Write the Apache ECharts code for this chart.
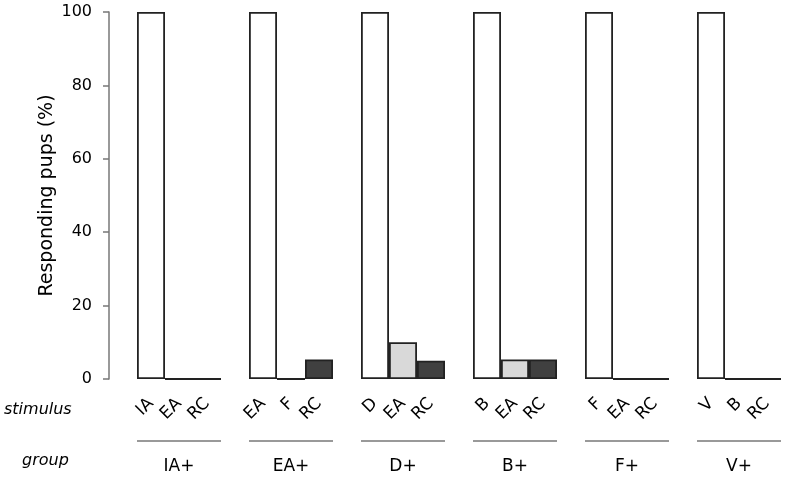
<!DOCTYPE html>
<html>
<head>
<meta charset="utf-8">
<script src="https://cdn.jsdelivr.net/npm/echarts@6/dist/echarts.min.js"></script>
<style>html,body{margin:0;padding:0;background:#fff}#c{width:789px;height:478px}</style>
</head>
<body>
<div id="c"></div>
<script>
const groups = ['IA+', 'EA+', 'D+', 'B+', 'F+', 'V+'];
const stimuli = [
  ['IA', 'EA', 'RC'],
  ['EA', 'F', 'RC'],
  ['D', 'EA', 'RC'],
  ['B', 'EA', 'RC'],
  ['F', 'EA', 'RC'],
  ['V', 'B', 'RC']
];
const values = [
  [100, 0, 0],
  [100, 0, 5.3],
  [100, 10, 5],
  [100, 5.3, 5.3],
  [100, 0, 0],
  [100, 0, 0]
];
const yTicks = [0, 20, 40, 60, 80, 100];
const yTitle = 'Responding pups (%)';
const rowLabels = ['stimulus', 'group'];

const fills = ['#ffffff', '#d9d9d9', '#404040'];

// Build slots: one empty gap slot before each group of three bars
const cats = [], stimLabels = [], groupLabels = [], barData = [];
groups.forEach((g, gi) => {
  cats.push('gap' + gi); stimLabels.push(''); groupLabels.push(''); barData.push(null);
  stimuli[gi].forEach((s, si) => {
    cats.push('g' + gi + 's' + si);
    stimLabels.push(s);
    groupLabels.push(si === 1 ? g : '');
    barData.push({ value: values[gi][si], itemStyle: { color: fills[si] } });
  });
});

const chart = echarts.init(document.getElementById('c'));
const font = 'DejaVu Sans';
chart.setOption({
  animation: false,
  grid: { left: 109, right: 8, top: 12, bottom: 99 },
  xAxis: [{
    type: 'category', data: cats, boundaryGap: true,
    axisLine: { show: false }, axisTick: { show: false },
    axisLabel: {
      interval: 0, rotate: 45, margin: 22, color: '#000', fontSize: 17, fontFamily: font,
      formatter: (v, i) => stimLabels[i]
    }
  }, {
    type: 'category', data: cats, position: 'bottom', offset: 79,
    axisLine: { show: false }, axisTick: { show: false },
    axisLabel: {
      interval: 0, margin: 0, color: '#000', fontSize: 17, fontFamily: font,
      formatter: (v, i) => groupLabels[i]
    }
  }],
  yAxis: {
    type: 'value', min: yTicks[0], max: yTicks[yTicks.length - 1], interval: 20,
    name: yTitle, nameLocation: 'middle', nameGap: 52, nameRotate: 90, nameMoveOverlap: false,
    nameTextStyle: { color: '#000', fontSize: 19, fontFamily: font },
    axisLine: { show: true, lineStyle: { color: '#777', width: 1.5 } },
    axisTick: { show: true, length: 6, lineStyle: { color: '#777', width: 1.5 } },
    axisLabel: { color: '#000', fontSize: 16, fontFamily: font, margin: 17 },
    splitLine: { show: false }
  },
  series: [{
    type: 'bar', data: barData, barWidth: '100%', barCategoryGap: 0,
    itemStyle: { borderColor: '#222', borderWidth: 1.8 }
  }]
});

// group underline segments, placed via the axis scale
const gfx = [];
groups.forEach((g, gi) => {
  const first = chart.convertToPixel({ xAxisIndex: 0 }, 'g' + gi + 's0');
  const last = chart.convertToPixel({ xAxisIndex: 0 }, 'g' + gi + 's2');
  const half = (last - first) / 4;
  gfx.push({ type: 'line', shape: { x1: first - half, y1: 441, x2: last + half, y2: 441 },
    style: { stroke: '#777', lineWidth: 1.5 } });
});
gfx.push({ type: 'text', left: 4, top: 402, style: { text: rowLabels[0], font: 'italic 16px "DejaVu Sans"', fill: '#000' } });
gfx.push({ type: 'text', left: 22, top: 453, style: { text: rowLabels[1], font: 'italic 16px "DejaVu Sans"', fill: '#000' } });
chart.setOption({ graphic: gfx });
</script>
</body>
</html>
